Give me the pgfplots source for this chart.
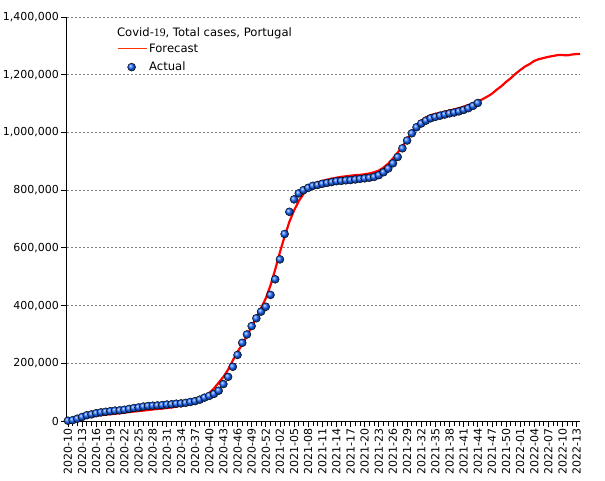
\documentclass[border=0pt]{standalone}
\usepackage{fontspec}
\setmainfont{DejaVu Sans}
\newfontfamily\serifnum{Liberation Serif}
\usepackage{pgfplots}
\pgfplotsset{compat=1.18}
\usepackage{pgfplotstable}

\definecolor{fcred}{RGB}{255,0,0}
\definecolor{legred}{RGB}{255,50,0}
\definecolor{actblue}{RGB}{20,100,255}

\pgfplotsset{
  ballleg/.style={legend image code/.code={\draw[mark repeat=2,mark phase=2,##1] plot coordinates {(0pt,0pt)(14pt,0pt)(28pt,0pt)};}},
  lineleg/.style={legend image code/.code={\draw[legred, line width=1pt] (0pt,0pt) -- (29pt,0pt);}},
}

% week index 0 = 2020-10, one step per ISO week
\pgfplotstableread{
i v
0 1000
1 3000
2 8000
3 14000
4 20000
5 23000
6 27000
7 30000
8 32000
9 34000
10 36000
11 37000
12 39000
13 42000
14 45000
15 47000
16 50000
17 52000
18 53000
19 54000
20 55000
21 57000
22 58000
23 60000
24 61000
25 63000
26 66000
27 69000
28 74000
29 81000
30 87000
31 94000
32 105000
33 128000
34 153000
35 188000
36 229000
37 271000
38 300000
39 329000
40 356000
41 379000
42 396000
43 437000
44 491000
45 560000
46 648000
47 725000
48 768000
49 789000
50 800000
51 808000
52 815000
53 818000
54 822000
55 825000
56 828000
57 831000
58 832000
59 834000
60 835000
61 837000
62 839000
63 841000
64 843000
65 846000
66 852000
67 862000
68 875000
69 893000
70 915000
71 945000
72 972000
73 997000
74 1018000
75 1031000
76 1041000
77 1049000
78 1054000
79 1058000
80 1062000
81 1066000
82 1069000
83 1073000
84 1078000
85 1084000
86 1092000
87 1102000
}\actual

\pgfplotstableread{
i v
0 5000
2 11000
4 15000
6 18000
8 22000
10 25000
12 29000
14 33000
16 36000
18 40000
20 43000
22 47000
24 53000
25 56000
26 61000
27 66000
28 73000
29 83000
30 96000
31 113000
32 133000
33 153000
34 178000
35 210000
36 240000
37 265000
38 295000
39 328000
40 358000
41 392000
42 425000
43 470000
44 525000
45 585000
46 640000
47 690000
48 730000
49 762000
50 787000
51 805000
52 817000
53 826000
54 832000
55 836000
56 840000
57 843000
58 846000
59 848000
60 850000
61 852000
62 853000
63 855000
64 858000
65 862000
66 868000
67 878000
68 892000
69 910000
70 930000
71 952000
72 975000
73 998000
74 1020000
75 1040000
76 1052000
77 1060000
78 1064000
79 1068000
80 1072000
81 1076000
82 1080000
83 1084000
84 1089000
85 1095000
86 1101000
87 1107000
88 1115000
89 1124000
90 1134000
91 1148000
92 1160000
93 1175000
94 1188000
95 1203000
96 1216000
97 1228000
98 1237000
99 1248000
100 1254000
101 1258000
102 1262000
103 1265000
104 1268000
105 1268000
106 1267000
107 1270000
108 1272000
108.7 1272000
}\forecast

\begin{document}
\begin{tikzpicture}
\useasboundingbox (-67pt,-59pt) rectangle (538pt,421pt);
\begin{axis}[
  at={(0,0)}, anchor=south west,
  scale only axis,
  width=513pt, height=404pt,
  xmin=-0.2, xmax=108.7,
  ymin=0, ymax=1400000,
  clip=false,
  axis x line*=bottom,
  axis y line*=left,
  axis line style={line width=1pt},
  tick align=outside,
  tick style={black, line width=0.8pt},
  major tick length=6pt,
  minor tick length=5pt,
  xtick={0,3,...,108},
  minor xtick={0,...,108},
  xticklabels={2020-10,2020-13,2020-16,2020-19,2020-22,2020-25,2020-28,2020-31,2020-34,2020-37,2020-40,2020-43,2020-46,2020-49,2020-52,2021-02,2021-05,2021-08,2021-11,2021-14,2021-17,2021-20,2021-23,2021-26,2021-29,2021-32,2021-35,2021-38,2021-41,2021-44,2021-47,2021-50,2022-01,2022-04,2022-07,2022-10,2022-13},
  x tick label style={rotate=90, anchor=east, font=\fontsize{11}{13}\selectfont, inner sep=1.5pt},
  ytick={0,200000,...,1400000},
  scaled y ticks=false,
  y tick label style={font=\fontsize{11}{13}\selectfont, inner sep=2pt, /pgf/number format/.cd, fixed, 1000 sep={,}},
  /pgf/number format/assume math mode=true,
  ymajorgrids,
  grid style={gray, line width=0.8pt, dash pattern=on 2pt off 2pt},
  reverse legend,
  legend cell align=left,
  legend style={draw=none, fill=none, at={(axis cs:10.4,1314000)}, anchor=north west,
    inner sep=0pt, row sep=4pt, font=\fontsize{11.6}{13.5}\selectfont,
    nodes={inner sep=2pt}},
]
\addplot[only marks, mark=ball, mark size=4pt, ball color=actblue, ballleg]
  table[x=i, y=v] {\actual};
\addlegendentry{Actual}
\addplot[fcred, line width=2.2pt, no markers, lineleg]
  table[x=i, y=v] {\forecast};
\addlegendentry{Forecast}
\node[anchor=west, inner sep=0pt, font=\fontsize{11.6}{13.5}\selectfont] at (axis cs:10.4,1345000) {Covid-{\serifnum 19}, Total cases, Portugal};
\end{axis}
\end{tikzpicture}
\end{document}
